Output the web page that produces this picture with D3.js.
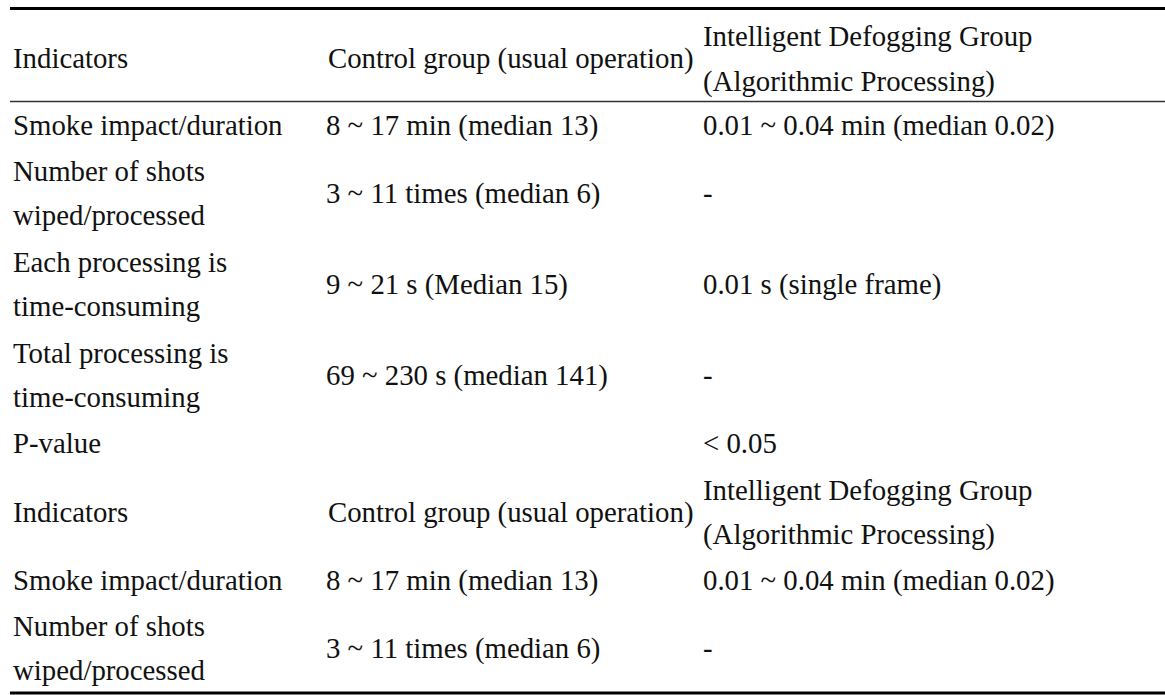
<!DOCTYPE html>
<html>
<head>
<meta charset="utf-8">
<script src="https://cdn.jsdelivr.net/npm/d3@7"></script>
<style>
  body { margin: 0; background: #fff; }
  svg text { font-family: "Liberation Serif", "Times New Roman", serif; font-size: 28.8px; fill: #111; }
</style>
</head>
<body>
<svg id="chart" width="1165" height="695"></svg>
<script>
// table content, one array per column ("\n" = line break inside a cell)
var columns = ['indicator', 'control', 'defog'];
var headerLabels = ['Indicators', 'Control group (usual operation)', 'Intelligent Defogging Group\n(Algorithmic Processing)'];
var indicatorLabels = [
  'Smoke impact/duration',
  'Number of shots\nwiped/processed',
  'Each processing is\ntime-consuming',
  'Total processing is\ntime-consuming',
  'P-value',
  'Indicators',
  'Smoke impact/duration',
  'Number of shots\nwiped/processed'
];
var controlValues = [
  '8 ~ 17 min (median 13)',
  '3 ~ 11 times (median 6)',
  '9 ~ 21 s (Median 15)',
  '69 ~ 230 s (median 141)',
  '',
  'Control group (usual operation)',
  '8 ~ 17 min (median 13)',
  '3 ~ 11 times (median 6)'
];
var defogValues = [
  '0.01 ~ 0.04 min (median 0.02)',
  '-',
  '0.01 s (single frame)',
  '-',
  '< 0.05',
  'Intelligent Defogging Group\n(Algorithmic Processing)',
  '0.01 ~ 0.04 min (median 0.02)',
  '-'
];
var repeatedHeaderRows = [5];

var svg = d3.select('#chart');

// column x positions (header text of the middle column sits a touch further right)
var colX = d3.scaleOrdinal().domain(columns).range([13, 326, 703]);
var headerShift = { indicator: 0, control: 2, defog: 0 };

// rows: count lines per row and stack them
var rows = indicatorLabels.map(function (d, i) {
  var cells = [d, controlValues[i], defogValues[i]].map(function (t) { return t.split('\n'); });
  return { cells: cells, lines: d3.max(cells, function (c) { return c.length; }), header: repeatedHeaderRows.indexOf(i) >= 0 };
});
var cum = 0;
rows.forEach(function (r) { r.start = cum; cum += r.lines; });

var y = d3.scaleLinear().domain([0, cum]).range([101.5, 693]);
var linePitch = 44;

// rules
var x0 = 10, x1 = 1165;
svg.append('line').attr('x1', x0).attr('x2', x1).attr('y1', 8.5).attr('y2', 8.5)
  .attr('stroke', '#000').attr('stroke-width', 3);
svg.append('line').attr('x1', x0).attr('x2', x1).attr('y1', y(0)).attr('y2', y(0))
  .attr('stroke', '#333').attr('stroke-width', 1.5);
svg.append('line').attr('x1', x0).attr('x2', x1).attr('y1', y(cum)).attr('y2', y(cum))
  .attr('stroke', '#000').attr('stroke-width', 3);

// top header
headerLabels.forEach(function (t, ci) {
  var parts = t.split('\n');
  var x = colX(columns[ci]) + headerShift[columns[ci]];
  svg.append('text')
    .selectAll('tspan')
    .data(parts)
    .enter()
    .append('tspan')
      .attr('x', x)
      .attr('y', function (d, k) { return 68 + (k - (parts.length - 1) / 2) * 45; })
      .text(function (d) { return d; });
});

// body rows
var g = svg.selectAll('g.row')
  .data(rows)
  .enter()
  .append('g')
    .attr('class', 'row');

g.each(function (r) {
  var center = y(r.start + r.lines / 2) + 10.5;
  var row = d3.select(this);
  r.cells.forEach(function (parts, ci) {
    var key = columns[ci];
    var x = colX(key) + (r.header ? headerShift[key] : 0);
    row.append('text')
      .selectAll('tspan')
      .data(parts)
      .enter()
      .append('tspan')
        .attr('x', x)
        .attr('y', function (d, k) { return center + (k - (parts.length - 1) / 2) * linePitch; })
        .text(function (d) { return d; });
  });
});
</script>
</body>
</html>
